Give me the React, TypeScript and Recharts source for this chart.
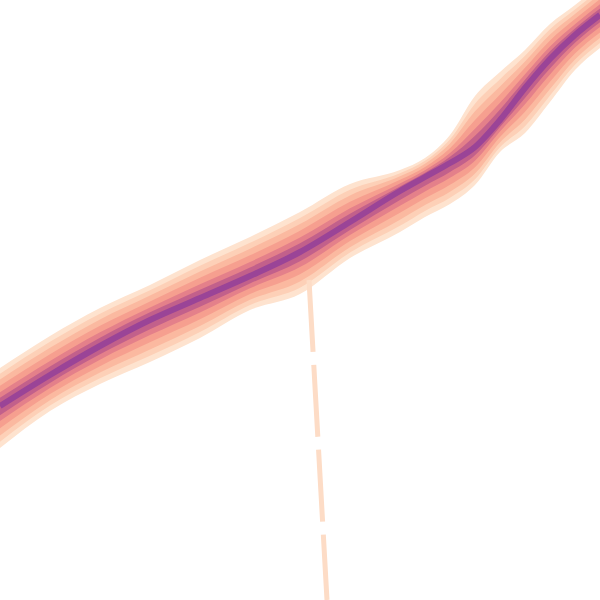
import { ComposedChart, Area, Line, XAxis, YAxis } from 'recharts'

// positions along the track
const steps = [0, 50, 100, 150, 200, 250, 300, 350, 400, 425, 450, 475, 500, 525, 550, 575, 600]
// median path
const median = [194, 225, 254, 280, 302, 324, 348, 378, 409, 423, 437, 453, 480, 512, 541, 565, 585]
// outer envelope
const upper = [232, 264, 292, 315, 340, 363, 388, 416, 430, 442, 465, 504, 528, 550, 576, 595, 615]
const lower = [152, 189, 216, 238, 262, 290, 306, 342, 368, 383, 396, 415, 448, 467, 498, 530, 552]

// dashed marker
const markerX = [309, 327]
const markerY = [320, 0]

// share of the envelope each band covers, outer to inner
const bandShare = [1, 0.85, 0.7, 0.53, 0.36, 0.22]
const bandColors = ['#fee3cf', '#fdd0b7', '#fbb9a0', '#f69f8f', '#e4808a', '#c2608b']

const data = steps.map((x, i) => {
  const row: any = { x, median: median[i] }
  bandShare.forEach((s, b) => {
    row['band' + b] = [
      median[i] - (median[i] - lower[i]) * s,
      median[i] + (upper[i] - median[i]) * s,
    ]
  })
  return row
})

const markerData = markerX.map((x, i) => ({ x, y: markerY[i] }))

export default function App() {
  return (
    <div style={{ position: 'absolute', left: 0, top: 0, width: 600, height: 600, background: '#fff' }}>
      <ComposedChart width={600} height={600} data={data} margin={{ top: 0, right: 0, left: 0, bottom: 0 }}>
        <XAxis dataKey="x" type="number" domain={[0, 600]} allowDataOverflow hide />
        <YAxis type="number" domain={[0, 600]} allowDataOverflow hide />
        <Line
          data={markerData}
          dataKey="y"
          type="linear"
          stroke="#fddcc6"
          strokeWidth={5}
          strokeDasharray="72 13"
          dot={false}
          activeDot={false}
          isAnimationActive={false}
        />
        {bandShare.map((_, b) => (
          <Area
            key={b}
            dataKey={'band' + b}
            type="monotone"
            stroke="none"
            fill={bandColors[b]}
            fillOpacity={1}
            dot={false}
            activeDot={false}
            isAnimationActive={false}
          />
        ))}
        <Line
          dataKey="median"
          type="monotone"
          stroke="#9a4497"
          strokeWidth={6}
          dot={false}
          activeDot={false}
          isAnimationActive={false}
        />
      </ComposedChart>
    </div>
  )
}
